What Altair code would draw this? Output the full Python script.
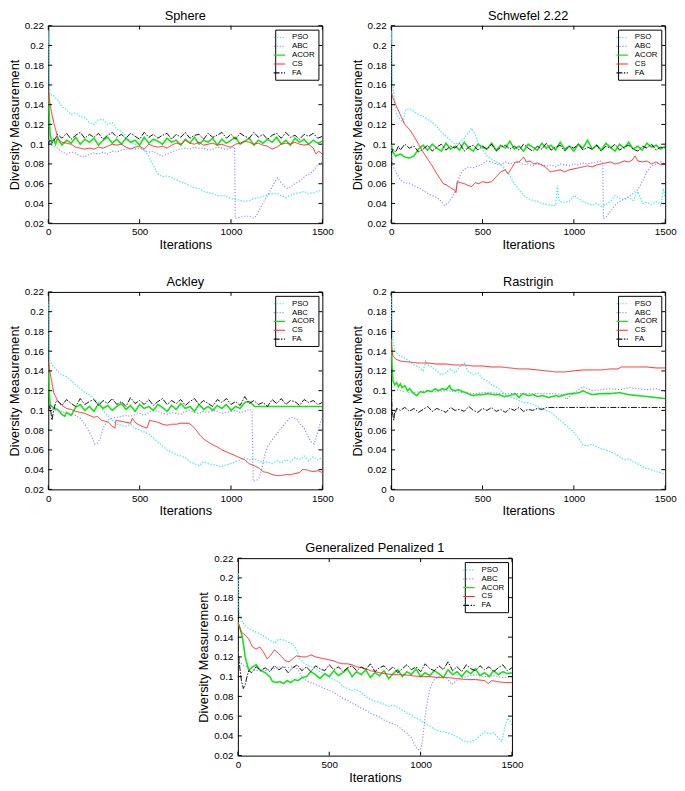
import altair as alt
import pandas as pd
import numpy as np

SERIES = ["PSO", "ABC", "ACOR", "CS", "FA"]
COLORS = ["#55e8f0", "#8f8fff", "#19e019", "#ff2626", "#111111"]
DASHES = [[1.5, 1.5], [1.2, 1.8], [1, 0], [1, 0], [6, 1.5, 1.5, 1.5]]
WIDTHS = [1.3, 1.2, 1.6, 1.0, 1.0]

X_TICKS = [0, 500, 1000, 1500]
Y_TICKS_A = [0.02, 0.04, 0.06, 0.08, 0.10, 0.12, 0.14, 0.16, 0.18, 0.20, 0.22]
Y_TICKS_B = [0.0, 0.02, 0.04, 0.06, 0.08, 0.10, 0.12, 0.14, 0.16, 0.18, 0.20]

TITLES = ["Sphere", "Schwefel 2.22", "Ackley", "Rastrigin", "Generalized Penalized 1"]


def seg(x0, x1, vals):
    xs = np.linspace(x0, x1, len(vals))
    return [(float(a), v) for a, v in zip(xs, vals)]


# ---------------- Sphere (values in thousandths) ----------------
SPHERE_PSO = [(0,200),(3,215),(6,160),(10,150),(25,150),(50,145),(75,138),(100,135),(125,130),(150,132),(175,128),(200,127),(225,122),(250,120),(275,125),(300,125),(325,120),(350,122),(375,115),(400,113),(425,108),(450,102),(475,100),(500,97),(525,94),(550,88),(575,78),(600,70),(625,67),(650,68),(675,66),(700,64),(725,62),(750,60),(775,58),(800,56),(825,55),(850,52),(875,51),(900,50),(925,48),(950,48),(975,47),(1000,45),(1025,44),(1050,43),(1075,42),(1100,43),(1125,45),(1150,46),(1175,47),(1200,49),(1225,50),(1250,50),(1275,48),(1300,46),(1325,48),(1350,50),(1375,51),(1400,52),(1425,50),(1450,51),(1475,52),(1500,54)]
SPHERE_ABC = [(0,104),(10,100),(25,98),(50,96),(75,92),(100,90),(125,92),(150,91),(175,88),(200,87),(225,90),(250,91),(275,90),(300,92),(325,90),(350,93),(375,92),(400,94),(425,95),(450,96),(475,95),(500,96),(525,94),(550,92),(575,93),(600,90),(625,88),(650,90),(675,92),(700,94),(725,95),(750,96),(775,95),(800,97),(825,96),(850,96),(875,94),(900,95),(925,97),(950,96),(975,95),(1000,96),(1020,97),(1023,25),(1050,26),(1075,27),(1100,27),(1125,25),(1140,28),(1160,35),(1180,42),(1200,48),(1220,55),(1240,62),(1255,66),(1270,62),(1290,58),(1310,55),(1330,57),(1350,60),(1370,62),(1390,65),(1410,68),(1430,70),(1450,73),(1470,78),(1485,80),(1500,82)]
SPHERE_ACOR_HEAD = [(0,150),(5,130),(10,110),(20,102),(30,105),(40,100)]
SPHERE_ACOR_BODY = [106,99,104,101,107,100,105,102,106,99,104,107,101,105,100,106,102,104,99,107,101,105,103,100,106,102,104,99,105,101,107,100,104,102,106,99,105,101,104,107,100,103,106,99,104,101,105,102,107,100,104,99,106,102,105,100,104,101,103]
SPHERE_CS = [(0,155),(5,148),(10,140),(20,130),(30,122),(40,115),(50,108),(60,104),(75,102),(100,101),(125,100),(150,97),(175,96),(200,95),(225,96),(250,95),(275,97),(300,96),(325,98),(350,100),(375,99),(400,100),(425,97),(450,95),(475,97),(500,98),(525,95),(550,100),(575,98),(600,97),(625,98),(650,96),(675,99),(700,101),(725,100),(750,104),(775,101),(800,100),(825,102),(850,99),(875,100),(900,101),(925,99),(950,100),(975,98),(1000,97),(1025,100),(1050,101),(1075,103),(1100,102),(1125,100),(1150,101),(1175,99),(1200,98),(1225,95),(1250,97),(1275,100),(1300,101),(1325,100),(1350,102),(1375,100),(1400,99),(1425,100),(1450,96),(1465,90),(1480,93),(1500,90)]
SPHERE_FA_HEAD = [(0,100),(10,104),(20,101),(40,106)]
SPHERE_FA_BODY = [110,106,111,105,109,112,106,110,107,111,105,109,112,107,110,106,111,108,105,112,107,110,106,109,111,105,110,107,112,106,109,110,105,111,107,109,112,106,110,105,111,108,106,112,107,110,105,109,111,106,112,107,109,105,110,108,111,106,108]

# ---------------- Schwefel 2.22 ----------------
SCHW_PSO = [(0,200),(3,215),(6,170),(10,160),(20,140),(30,130),(50,125),(65,122),(80,135),(100,136),(125,133),(150,130),(175,128),(200,125),(225,122),(250,118),(275,112),(300,108),(325,104),(350,100),(375,102),(400,106),(425,112),(440,116),(460,110),(480,100),(500,95),(525,88),(550,85),(575,82),(600,80),(625,74),(650,68),(675,60),(700,54),(725,48),(750,45),(775,43),(800,42),(825,40),(850,39),(875,38),(900,38),(910,58),(920,42),(950,41),(975,42),(1000,48),(1025,45),(1050,42),(1075,40),(1100,38),(1125,40),(1150,37),(1175,39),(1200,42),(1225,48),(1250,45),(1275,44),(1300,46),(1325,43),(1350,52),(1375,40),(1400,41),(1425,39),(1450,42),(1475,38),(1490,55),(1500,45)]
SCHW_ABC = [(0,100),(5,85),(10,78),(25,72),(50,64),(75,61),(100,60),(125,58),(150,56),(175,53),(200,50),(225,48),(250,46),(275,42),(290,38),(310,40),(330,45),(350,52),(365,62),(380,70),(400,75),(425,77),(450,76),(475,78),(500,80),(525,83),(550,82),(575,80),(600,79),(625,82),(650,80),(675,81),(700,82),(725,79),(750,80),(775,78),(800,80),(825,79),(850,78),(875,79),(900,77),(925,80),(950,79),(975,78),(1000,80),(1025,79),(1050,81),(1075,80),(1100,81),(1125,82),(1150,83),(1158,80),(1162,25),(1175,26),(1200,32),(1225,38),(1250,42),(1275,44),(1300,47),(1325,50),(1350,54),(1375,62),(1400,72),(1425,78),(1450,80),(1475,82),(1500,80)]
SCHW_ACOR_HEAD = [(0,100),(10,92),(25,88),(50,90),(75,87),(100,86),(125,88),(150,95)]
SCHW_ACOR_BODY = [99,94,100,96,93,101,95,98,94,102,96,93,100,97,95,101,94,99,96,103,95,98,93,100,97,94,101,96,99,94,102,95,98,93,100,96,104,95,99,94,101,97,93,100,96,102,95,98,94,101,97,99,95,98]
SCHW_CS = [(0,153),(10,147),(25,140),(50,130),(75,120),(100,115),(125,108),(150,100),(175,92),(200,85),(225,78),(250,70),(275,63),(285,60),(300,59),(325,56),(350,53),(355,51),(362,62),(380,61),(400,60),(425,58),(440,57),(460,61),(480,60),(500,62),(525,61),(550,62),(575,67),(600,72),(625,74),(640,70),(660,76),(680,82),(700,82),(715,85),(725,87),(740,82),(760,83),(780,80),(800,81),(825,79),(850,76),(870,72),(900,73),(925,74),(950,72),(975,74),(1000,75),(1025,76),(1050,77),(1075,78),(1100,77),(1125,79),(1150,80),(1175,81),(1200,82),(1225,80),(1250,81),(1275,83),(1300,82),(1320,84),(1335,88),(1350,83),(1375,82),(1400,83),(1425,80),(1450,82),(1475,79),(1500,80)]
SCHW_FA_HEAD = [(0,90),(10,95),(25,92),(40,98),(50,94),(75,100),(100,96),(125,98),(150,92)]
SCHW_FA_BODY = [95,99,93,97,100,94,98,96,101,93,97,99,94,98,95,100,93,97,99,95,98,94,100,96,93,98,95,101,94,97,99,93,98,96,100,94,97,95,99,93,98,96,100,94,97,99,95,93,98,96,100,94,97,96]

# ---------------- Ackley ----------------
ACK_PSO = [(0,200),(3,210),(6,160),(10,150),(25,145),(50,140),(75,136),(100,134),(125,130),(150,126),(175,122),(200,118),(225,116),(250,112),(275,108),(300,100),(325,95),(350,90),(375,86),(400,85),(425,84),(450,86),(475,82),(500,80),(525,78),(550,76),(575,72),(600,68),(625,64),(650,60),(675,58),(700,55),(725,54),(750,52),(775,48),(800,46),(825,44),(850,48),(875,46),(900,45),(925,44),(950,43),(975,45),(1000,46),(1025,48),(1050,50),(1075,52),(1100,50),(1125,51),(1150,49),(1175,47),(1200,48),(1225,46),(1250,49),(1275,47),(1300,50),(1325,48),(1350,52),(1375,50),(1400,54),(1425,49),(1450,53),(1475,50),(1500,52)]
ACK_ABC = [(0,100),(10,103),(25,101),(50,100),(75,99),(100,97),(125,96),(150,95),(175,92),(200,86),(225,78),(240,72),(255,66),(270,67),(285,72),(300,82),(325,90),(350,92),(375,93),(400,94),(425,95),(450,94),(475,96),(500,97),(525,95),(550,98),(575,100),(600,99),(625,97),(650,96),(675,98),(700,97),(725,96),(750,99),(775,100),(800,98),(825,97),(850,99),(875,98),(900,100),(925,99),(950,97),(975,98),(1000,99),(1025,100),(1050,98),(1075,99),(1100,101),(1115,100),(1122,28),(1140,29),(1155,32),(1170,42),(1185,55),(1200,63),(1225,70),(1250,76),(1275,82),(1300,88),(1320,92),(1340,93),(1360,91),(1380,86),(1400,82),(1420,74),(1440,68),(1455,66),(1470,75),(1485,85),(1500,93)]
ACK_ACOR_HEAD = [(0,145),(5,120),(10,106),(25,103),(50,101),(75,96),(90,94),(100,98),(125,95),(150,103)]
ACK_ACOR_BODY = [106,100,104,99,107,102,105,100,104,107,101,105,99,106,102,104,100,106,103,99,105,101,107,102,104,99,106,101,104,100,105,102,106,100,104,102,108,109]
ACK_ACOR_TAIL = [(1130,104),(1500,104)]
ACK_CS = [(0,150),(10,138),(20,128),(30,118),(50,110),(75,105),(100,102),(125,101),(150,99),(175,98),(200,97),(225,95),(250,93),(270,94),(290,90),(310,89),(330,88),(350,84),(365,82),(370,90),(400,89),(425,88),(450,87),(460,92),(480,87),(500,85),(525,83),(540,82),(555,90),(575,89),(600,88),(625,86),(650,85),(675,86),(700,86),(725,87),(750,87),(770,87),(790,84),(810,80),(830,75),(850,71),(875,68),(900,65),(925,63),(950,60),(975,58),(1000,56),(1025,54),(1050,52),(1075,50),(1100,46),(1125,44),(1150,42),(1175,38),(1200,37),(1225,35),(1250,34),(1275,34),(1300,35),(1325,35),(1350,36),(1375,37),(1390,40),(1410,40),(1425,39),(1450,38),(1475,39),(1500,37)]
ACK_FA_HEAD = [(0,100),(10,105),(20,90),(30,100),(40,108)]
ACK_FA_BODY = [110,105,111,107,104,112,106,109,111,105,110,107,112,106,109,104,113,107,110,106,111,105,109,112,106,110,107,111,105,109,112,106,110,107,104,111,108,112,106,109,105,114,107,110,106,108,104,111,107,112,106,110,109,105,111,108,110,106,108]

# ---------------- Rastrigin ----------------
RAS_PSO = [(0,200),(5,170),(10,150),(20,140),(30,138),(50,135),(75,133),(100,130),(125,126),(150,124),(175,120),(190,130),(200,126),(225,124),(250,120),(275,116),(300,118),(325,122),(350,118),(375,124),(400,128),(420,120),(450,116),(475,118),(500,112),(525,110),(550,106),(575,104),(600,100),(625,96),(650,94),(675,92),(700,90),(725,88),(750,88),(775,86),(800,84),(825,82),(850,80),(875,78),(900,74),(925,70),(950,66),(975,62),(1000,58),(1025,52),(1050,45),(1075,44),(1100,46),(1125,43),(1150,41),(1175,40),(1200,38),(1225,36),(1250,33),(1275,30),(1300,31),(1325,28),(1350,26),(1375,23),(1400,21),(1425,20),(1450,18),(1475,17),(1500,15)]
RAS_ABC = [(0,100),(10,100),(25,101),(50,100),(75,99),(100,98),(125,98),(150,99),(200,100),(250,99),(300,100),(350,99),(400,98),(450,97),(500,98),(550,98),(600,97),(650,97),(700,97),(750,97),(800,97),(850,97),(900,97),(940,96),(960,91),(975,94),(1000,98),(1025,101),(1050,104),(1075,102),(1100,100),(1150,101),(1200,102),(1250,101),(1300,103),(1350,102),(1400,101),(1450,102),(1500,99)]
RAS_ACOR = [(0,152),(5,125),(10,110),(20,106),(30,108),(40,104),(50,107),(60,103),(75,105),(90,100),(100,102),(125,97),(140,95),(160,99),(180,98),(200,100),(220,99),(240,102),(260,100),(280,102),(300,101),(320,105),(330,101),(350,100),(370,101),(390,99),(410,98),(430,96),(450,95),(470,96),(500,96),(530,97),(560,96),(590,96),(620,94),(650,95),(680,97),(700,93),(720,97),(750,95),(780,96),(800,94),(830,95),(860,93),(880,94),(900,95),(920,94),(950,96),(980,97),(1000,97),(1030,98),(1050,100),(1070,98),(1100,96),(1150,97),(1200,97),(1250,98),(1300,96),(1350,95),(1400,94),(1450,93),(1500,92)]
RAS_CS = [(0,152),(5,140),(10,135),(25,132),(50,130),(100,129),(150,128),(200,128),(250,127),(300,127),(350,126),(400,126),(450,125),(500,125),(550,124),(600,124),(650,123),(700,122),(750,122),(800,121),(850,120),(900,119),(950,119),(1000,120),(1050,121),(1100,121),(1150,121),(1200,122),(1240,122),(1260,124),(1300,124),(1350,124),(1400,124),(1450,123),(1500,123)]
RAS_FA_HEAD = [(0,110),(5,80),(10,75),(15,70),(20,80),(25,78),(30,82)]
RAS_FA_BODY = [80,83,79,82,78,81,84,79,82,80,78,83,80,81,79,84,80,78,82,80,83,79,81,78,82,80,83,79,81,80,82,81]
RAS_FA_TAIL = [(850,83),(1500,83)]

# ---------------- Generalized Penalized 1 ----------------
GP_PSO = [(0,200),(3,205),(6,170),(10,162),(25,155),(50,150),(75,147),(100,145),(125,143),(150,140),(175,137),(200,134),(225,138),(250,137),(275,135),(300,133),(320,128),(340,118),(360,114),(380,112),(400,110),(425,108),(450,105),(475,102),(500,100),(525,97),(550,95),(575,90),(600,88),(625,86),(650,87),(675,84),(700,80),(725,77),(750,75),(775,74),(800,72),(825,70),(850,71),(875,69),(900,66),(925,63),(950,61),(975,58),(1000,56),(1025,52),(1050,50),(1075,47),(1100,45),(1125,44),(1150,43),(1175,41),(1200,39),(1225,36),(1250,34),(1275,34),(1300,36),(1325,40),(1350,44),(1375,42),(1400,43),(1425,38),(1445,34),(1460,48),(1475,58),(1490,55),(1500,50)]
GP_ABC = [(0,125),(10,115),(25,112),(50,110),(75,108),(100,106),(125,107),(150,106),(175,108),(200,108),(225,110),(250,110),(275,109),(300,110),(325,108),(350,100),(375,96),(400,94),(425,92),(450,90),(475,88),(500,86),(525,84),(550,81),(575,78),(600,76),(625,73),(650,71),(675,68),(700,66),(725,63),(750,61),(775,59),(800,56),(825,54),(850,52),(875,50),(900,46),(925,43),(950,38),(970,30),(985,26),(1000,26),(1010,35),(1025,60),(1040,78),(1055,90),(1075,97),(1100,100),(1125,101),(1150,97),(1170,92),(1190,95),(1210,98),(1250,100),(1300,102),(1350,100),(1400,101),(1450,99),(1500,100)]
GP_ACOR_HEAD = [(0,155),(10,150),(25,140),(40,120),(60,106),(80,110),(100,112),(125,106),(150,104),(175,100),(190,95),(210,94),(230,95),(250,93),(270,96),(290,94),(310,97),(330,96),(350,99),(375,100),(400,105),(425,102)]
GP_ACOR_BODY = [98,103,100,106,101,104,108,100,105,102,107,99,104,101,106,98,103,107,100,105,102,108,100,104,101,106,103,99,107,102,105,100,106,103,108,101,104,100,106,102,105,103,104]
GP_CS = [(0,155),(10,150),(20,145),(40,142),(60,138),(80,130),(100,128),(120,130),(140,125),(160,118),(180,122),(200,127),(220,124),(240,120),(260,116),(280,115),(300,118),(320,121),(350,120),(375,120),(400,122),(425,120),(450,119),(475,118),(500,117),(525,116),(550,114),(575,113),(600,113),(625,112),(650,110),(675,109),(700,108),(725,106),(750,105),(775,104),(800,103),(850,102),(900,102),(950,101),(1000,100),(1050,100),(1100,99),(1150,99),(1200,98),(1250,97),(1300,97),(1350,96),(1370,93),(1390,96),(1420,95),(1460,94),(1500,94)]
GP_FA_HEAD = [(0,122),(5,120),(10,110),(20,95),(30,88),(40,92),(50,100),(60,106)]
GP_FA_BODY = [104,110,106,109,105,111,107,110,104,109,112,106,110,105,111,108,106,112,107,110,105,109,111,106,110,107,113,105,109,111,106,110,104,108,112,107,110,105,113,108,106,111,107,115,106,110,105,112,108,106,111,107,110,105,109,112,106,109]

PANELS = [
    [SPHERE_PSO, SPHERE_ABC, SPHERE_ACOR_HEAD + seg(50, 1500, SPHERE_ACOR_BODY), SPHERE_CS,
     SPHERE_FA_HEAD + seg(50, 1500, SPHERE_FA_BODY)],
    [SCHW_PSO, SCHW_ABC, SCHW_ACOR_HEAD + seg(175, 1500, SCHW_ACOR_BODY), SCHW_CS,
     SCHW_FA_HEAD + seg(175, 1500, SCHW_FA_BODY)],
    [ACK_PSO, ACK_ABC, ACK_ACOR_HEAD + seg(175, 1100, ACK_ACOR_BODY) + ACK_ACOR_TAIL, ACK_CS,
     ACK_FA_HEAD + seg(50, 1500, ACK_FA_BODY)],
    [RAS_PSO, RAS_ABC, RAS_ACOR, RAS_CS, RAS_FA_HEAD + seg(50, 825, RAS_FA_BODY) + RAS_FA_TAIL],
    [GP_PSO, GP_ABC, GP_ACOR_HEAD + seg(450, 1500, GP_ACOR_BODY), GP_CS,
     GP_FA_HEAD + seg(75, 1500, GP_FA_BODY)],
]
YTICKS = [Y_TICKS_A, Y_TICKS_A, Y_TICKS_A, Y_TICKS_B, Y_TICKS_A]

W, H = 279, 201
FONT = "Liberation Sans"


def panel(title, series_pairs, yticks):
    ydom = [yticks[0], yticks[-1]]
    xenc = alt.X("x:Q", title="Iterations",
                 scale=alt.Scale(domain=[0, 1500], nice=False, zero=False),
                 axis=alt.Axis(values=X_TICKS, format="d", grid=False, ticks=False, domain=False,
                               labelFlush=False, labelOverlap=False, labelPadding=4,
                               labelFontSize=10, titleFontSize=13, titlePadding=2,
                               titleFontWeight="normal", labelColor="black", titleColor="black"))
    yenc = alt.Y("y:Q", title="Diversity Measurement",
                 scale=alt.Scale(domain=ydom, nice=False, zero=False),
                 axis=alt.Axis(values=yticks, format="~g", grid=False, ticks=False, domain=False,
                               labelFlush=False, labelOverlap=False, labelPadding=5,
                               labelFontSize=10, titleFontSize=13, titlePadding=3,
                               titleFontWeight="normal", labelColor="black", titleColor="black"))
    leg = alt.Legend(orient="top-right", title=None, fillColor="white", strokeColor="black",
                     padding=3, offset=4, labelFontSize=8, labelFont=FONT, symbolSize=64,
                     symbolType="M-2.4,0H0.5", rowPadding=0, symbolStrokeWidth=1.2, labelOffset=4,
                     cornerRadius=0, labelColor="black", symbolFillColor="transparent")
    layers = []
    for i, (name, pairs) in enumerate(zip(SERIES, series_pairs)):
        df = pd.DataFrame({"x": [p[0] for p in pairs],
                           "y": [p[1] / 1000.0 for p in pairs],
                           "series": name})
        layers.append(
            alt.Chart(df).mark_line(strokeWidth=WIDTHS[i], clip=True).encode(
                x=xenc, y=yenc,
                color=alt.Color("series:N", scale=alt.Scale(domain=SERIES, range=COLORS), legend=leg),
                strokeDash=alt.StrokeDash("series:N", scale=alt.Scale(domain=SERIES, range=DASHES), legend=leg),
            )
        )
    ydf = pd.DataFrame({"y": yticks})
    xdf = pd.DataFrame({"x": X_TICKS})
    layers.append(alt.Chart(ydf).mark_rule(color="black", strokeWidth=1).encode(
        y=yenc, x=alt.value(0), x2=alt.value(4)))
    layers.append(alt.Chart(ydf).mark_rule(color="black", strokeWidth=1).encode(
        y=yenc, x=alt.value(W - 4), x2=alt.value(W)))
    layers.append(alt.Chart(xdf).mark_rule(color="black", strokeWidth=1).encode(
        x=xenc, y=alt.value(H - 4), y2=alt.value(H)))
    layers.append(alt.Chart(xdf).mark_rule(color="black", strokeWidth=1).encode(
        x=xenc, y=alt.value(0), y2=alt.value(4)))
    return alt.layer(*layers, title=alt.TitleParams(title, fontSize=13, fontWeight="normal",
                                                     font=FONT, offset=2, dy=4, color="black",
                                                     frame="group")
                     ).properties(width=W, height=H)


charts = [panel(t, s, yt) for t, s, yt in zip(TITLES, PANELS, YTICKS)]

spacer = alt.Chart(pd.DataFrame({"s": [0]})).mark_point(opacity=0).encode(
    x=alt.value(0), y=alt.value(0)
).properties(width=151, height=10, view=alt.ViewBackground(stroke="transparent"))


def indep(c):
    return c.resolve_scale(color="independent", strokeDash="independent").resolve_legend(
        color="independent", strokeDash="independent")


row1 = indep(alt.hconcat(charts[0], charts[1], spacing=17))
row2 = indep(alt.hconcat(charts[2], charts[3], spacing=17))
row3 = indep(alt.hconcat(spacer, charts[4], spacing=0))

chart = indep(alt.vconcat(row1, row2, row3, spacing=23)).properties(
    padding={"left": 0, "top": -6, "right": 0, "bottom": 0}
).configure(font=FONT).configure_view(stroke="black", strokeWidth=1)

chart.save("out.html", embed_options={"renderer": "svg", "actions": False})
